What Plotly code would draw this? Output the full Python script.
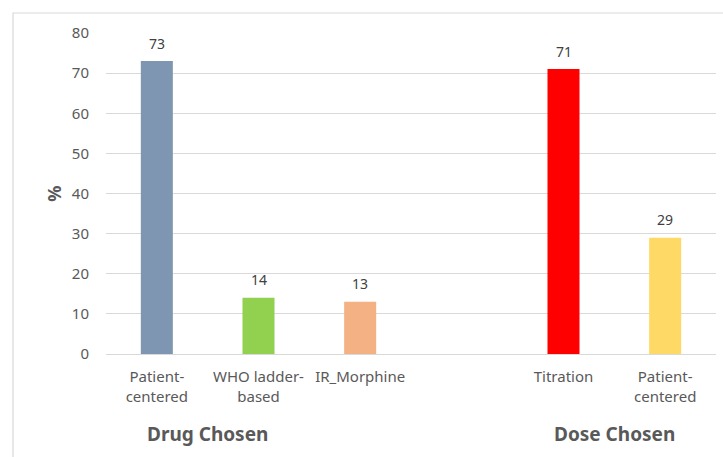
import plotly.graph_objects as go

categories = ["Patient-<br>centered", "WHO ladder-<br>based", "IR_Morphine", "Titration", "Patient-<br>centered"]
positions = [0, 1, 2, 4, 5]
values = [73, 14, 13, 71, 29]
colors = ["#7F96B2", "#92D050", "#F4B183", "#FF0000", "#FFD966"]
groups = ["Drug Chosen", "Dose Chosen"]
group_pos = [0.5, 4.5]
y_ticks = [0, 10, 20, 30, 40, 50, 60, 70, 80]

W, H = 723, 457
L, R, T, B = 106, 7, 33, 103
pw = W - L - R
ph = H - T - B

fig = go.Figure()
fig.add_trace(go.Bar(
    x=positions, y=values, marker=dict(color=colors, line=dict(width=0)),
    width=0.315, hoverinfo="skip",
))

annotations = []
for xp, v in zip(positions, values):
    annotations.append(dict(x=xp, y=v, xref="x", yref="y", text=str(v), showarrow=False,
                            yshift=18, font=dict(size=14, color="#404040", family="Noto Sans")))
for g, gp in zip(groups, group_pos):
    annotations.append(dict(x=gp, y=(354 - 434) / ph, xref="x", yref="paper", text="<b>" + g + "</b>",
                            showarrow=False, font=dict(size=19, color="#595959", family="Noto Sans"),
                            yanchor="middle"))

fig.add_shape(type="rect", xref="paper", yref="paper",
              x0=(13 - L) / pw, x1=(730 - L) / pw, y0=-(480 - T - ph) / ph, y1=(H - B - 13) / ph,
              line=dict(color="#D9D9D9", width=1.2), fillcolor="rgba(0,0,0,0)", layer="below")

fig.update_layout(
    width=W, height=H,
    margin=dict(l=L, r=R, t=T, b=B, autoexpand=False),
    plot_bgcolor="white", paper_bgcolor="white",
    showlegend=False,
    annotations=annotations,
    font=dict(family="Noto Sans", color="#595959"),
    xaxis=dict(range=[-0.5, 5.5], tickvals=positions, ticktext=categories,
               showgrid=False, zeroline=False, showline=False, ticks="",
               tickfont=dict(size=15, color="#595959"), ticklabelstandoff=12,
               automargin=False, fixedrange=True),
    yaxis=dict(range=[0, 80], tickvals=y_ticks, showgrid=True, gridcolor="#D9D9D9", gridwidth=1,
               zeroline=True, zerolinecolor="#D9D9D9", zerolinewidth=1,
               ticks="", tickfont=dict(size=15, color="#595959"),
               title=dict(text="<b>%</b>", font=dict(size=18, color="#595959"), standoff=5),
               ticklabelstandoff=16, automargin=False, fixedrange=True),
)

fig.write_html("out.html", config={"displayModeBar": False},
               post_script="document.body.style.margin='0';document.body.style.overflow='hidden';")
